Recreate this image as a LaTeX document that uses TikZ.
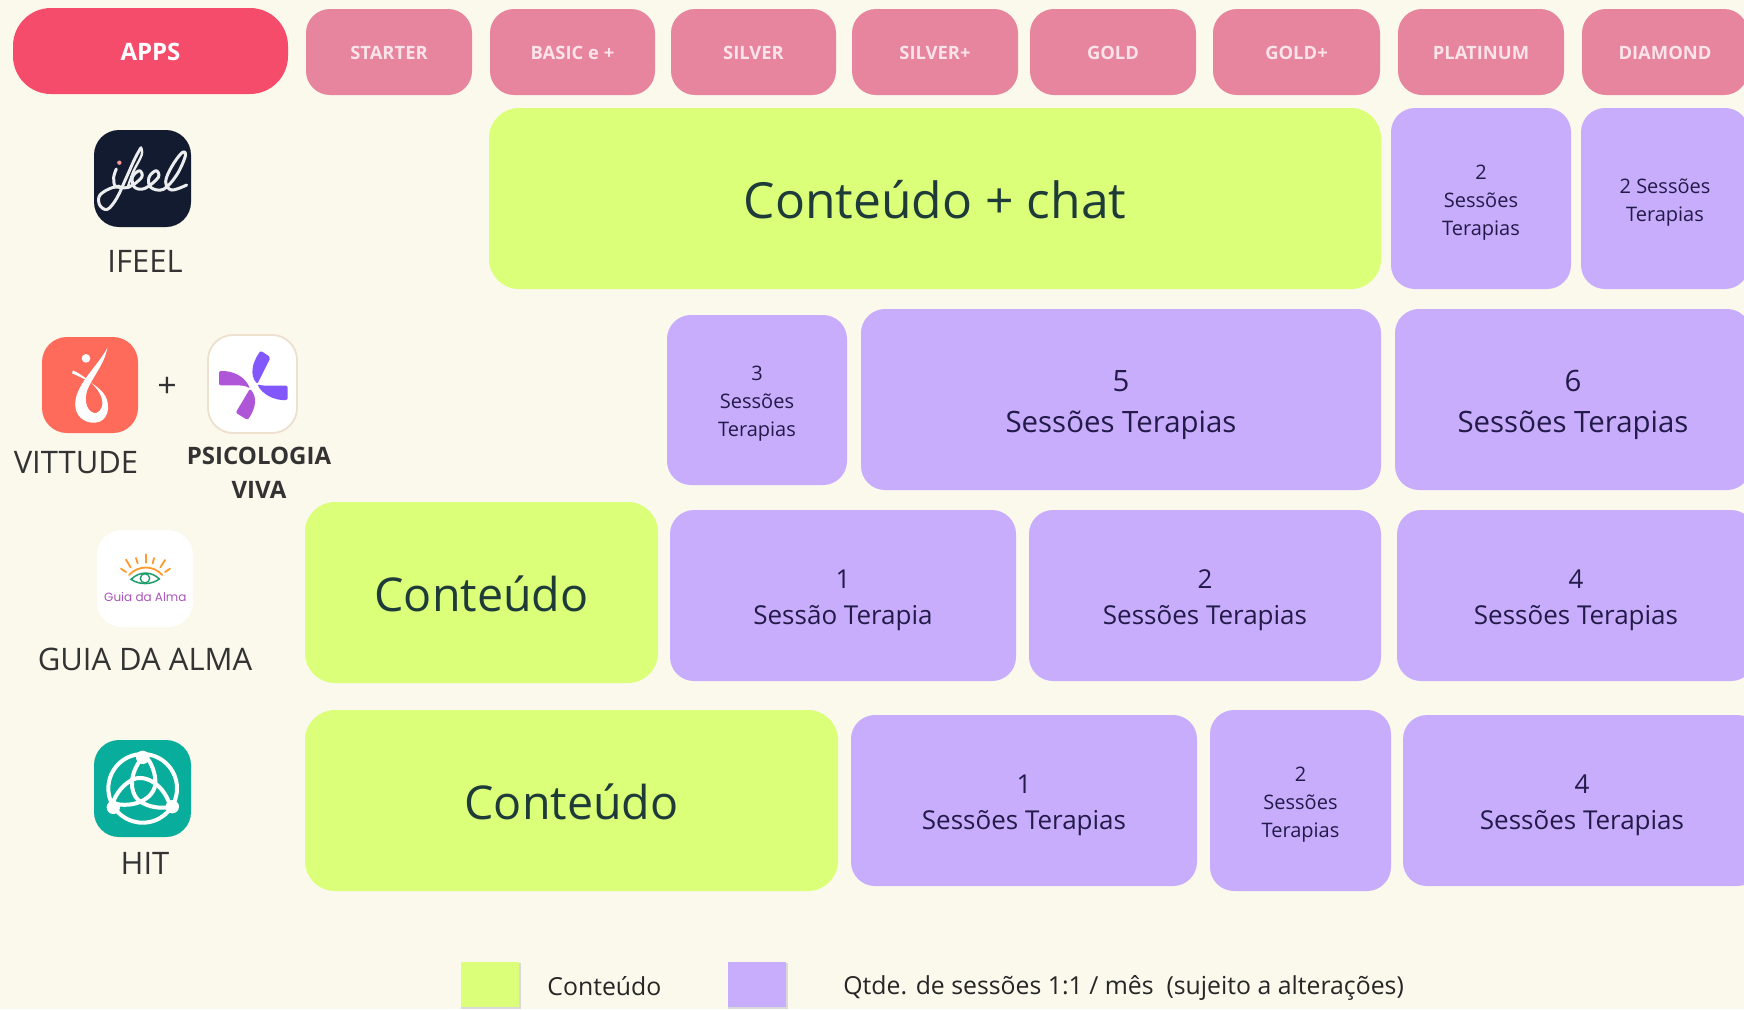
\documentclass[tikz,border=0pt]{standalone}
\usepackage{fontspec}
\setmainfont{Open Sans}
\newfontfamily\logofont{Poppins}
\definecolor{bgc}{HTML}{FBF9EC}
\definecolor{appsc}{HTML}{F64C6C}
\definecolor{tierc}{HTML}{E7849E}
\definecolor{tiertxt}{HTML}{FBE3EA}
\definecolor{greenc}{HTML}{DBFF78}
\definecolor{purplec}{HTML}{C7ADFB}
\definecolor{greentxt}{HTML}{1E3B3A}
\definecolor{purpletxt}{HTML}{231A4A}
\definecolor{labeltxt}{HTML}{333333}
\definecolor{ifeelc}{HTML}{131B30}
\definecolor{vitc}{HTML}{FF6B5A}
\definecolor{pvborder}{HTML}{EDE0CF}
\definecolor{pva}{HTML}{AF55D8}
\definecolor{pvb}{HTML}{8257FB}
\definecolor{hitc}{HTML}{09AD9B}
\definecolor{sunc}{HTML}{FF9A2E}
\definecolor{eyec}{HTML}{1F9E6B}
\definecolor{guiatxt}{HTML}{A855B8}
\definecolor{dotc}{HTML}{FF9A9A}
\newcommand\bx[7]{\pgfmathsetmacro\bw{(#5-#3)*.5}\pgfmathsetmacro\bh{(#6-#4)*.5}\node[#2,minimum width=\bw pt,minimum height=\bh pt] (#1) at ({(#3+#5)/2},{(#4+#6)/2}) {#7};}
\newcommand\stL{\rule{0pt}{16pt}}
\newcommand\stM{\rule{0pt}{14.3pt}}
\newcommand\stS{\rule{0pt}{11pt}}
\newcommand\stT{\rule{0pt}{7.6pt}}
\tikzset{
 x=.5pt,y=-.5pt,
 cell/.style={inner sep=0pt,align=center,rounded corners=12pt},
 apps/.style={cell,fill=appsc,text=white,rounded corners=19pt,font=\fontsize{12}{14}\selectfont\bfseries},
 tier/.style={cell,fill=tierc,text=tiertxt,font=\fontsize{9.2}{11}\selectfont\bfseries},
 bigg/.style={cell,fill=greenc,text=greentxt,rounded corners=15pt,font=\fontsize{24.9}{28}\selectfont},
 midg/.style={bigg,font=\fontsize{23.3}{28}\selectfont},
 large/.style={cell,fill=purplec,text=purpletxt,font=\fontsize{14.7}{20.5}\selectfont},
 med/.style={cell,fill=purplec,text=purpletxt,font=\fontsize{13}{18}\selectfont},
 small/.style={cell,fill=purplec,text=purpletxt,font=\fontsize{10}{14}\selectfont},
 lab/.style={inner sep=0pt,align=center,text=labeltxt,font=\fontsize{15.5}{17}\selectfont},
 labb/.style={lab,font=\fontsize{12}{17}\selectfont\bfseries},
 legtxt/.style={inner sep=0pt,anchor=west,text=black!85,font=\fontsize{12.4}{14}\selectfont},
 logobox/.style={inner sep=0pt,rounded corners=12.5pt},
 zoomone/.style={x=.16667pt,y=-.16667pt,shift={(0pt,-50pt)}},
 zoomtwo/.style={x=.16667pt,y=-.16667pt,shift={(0pt,-255pt)}},
}
\begin{document}
\begin{tikzpicture}
\fill[bgc] (0,0) rectangle (1744,1009);
\useasboundingbox (0,0) rectangle (1744,1009);
% header
\bx{apps}{apps}{13}{8}{288}{94}{\rule{0pt}{9.6pt}APPS}
\bx{t1}{tier}{306}{9}{472}{95}{\stT STARTER}
\bx{t2}{tier}{490}{9}{655}{95}{\stT BASIC e +}
\bx{t3}{tier}{671}{9}{836}{95}{\stT SILVER}
\bx{t4}{tier}{852}{9}{1018}{95}{\stT SILVER+}
\bx{t5}{tier}{1030}{9}{1196}{95}{\stT GOLD}
\bx{t6}{tier}{1213}{9}{1380}{95}{\stT GOLD+}
\bx{t7}{tier}{1398}{9}{1564}{95}{\stT PLATINUM}
\bx{t8}{tier}{1582}{9}{1748}{95}{\stT DIAMOND}
% row 1
\bx{r1a}{bigg}{489}{108}{1381}{289}{\rule{0pt}{20.5pt}Conteúdo + chat}
\bx{r1b}{small}{1391}{108}{1571}{289}{\stS 2\\Sessões\\Terapias}
\bx{r1c}{small}{1581}{108}{1749}{289}{\stS 2 Sessões\\Terapias}
% row 2
\bx{r2a}{small}{667}{315}{847}{485}{\stS 3\\Sessões\\Terapias}
\bx{r2b}{large}{861}{309}{1381}{490}{\stL 5\\Sessões Terapias}
\bx{r2c}{large}{1395}{309}{1751}{490}{\stL 6\\Sessões Terapias}
% row 3
\bx{r3a}{midg}{305}{502}{658}{683}{\rule{0pt}{19.5pt}Conteúdo}
\bx{r3b}{med}{670}{510}{1016}{681}{\stM 1\\Sessão Terapia}
\bx{r3c}{med}{1029}{510}{1381}{681}{\stM 2\\Sessões Terapias}
\bx{r3d}{med}{1397}{510}{1755}{681}{\stM 4\\Sessões Terapias}
% row 4
\bx{r4a}{midg}{305}{710}{838}{891}{\rule{0pt}{19.5pt}Conteúdo}
\bx{r4b}{med}{851}{715}{1197}{886}{\stM 1\\Sessões Terapias}
\bx{r4c}{small}{1210}{710}{1391}{891}{\stS 2\\Sessões\\Terapias}
\bx{r4d}{med}{1403}{715}{1761}{886}{\stM 4\\Sessões Terapias}
% app labels
\node[lab] (lifeel) at (145,261) {IFEEL};
\node[lab] (lvit) at (76,463) {VITTUDE};
\node[lab,font=\fontsize{17}{18}\selectfont] (lplus) at (167,387.5) {+};
\node[labb] (lpv) at (259,473) {PSICOLOGIA\\VIVA};
\node[lab] (lguia) at (145,659) {GUIA DA ALMA};
\node[lab] (lhit) at (145,863) {HIT};
% legend
\fill[black!15] (461,963) rectangle (520.5,1008.5);
\fill[black!15] (728,963) rectangle (787.5,1008.5);
\bx{leggreen}{fill=greenc,inner sep=0pt}{461}{962}{519}{1007}{}
\bx{legpurple}{fill=purplec,inner sep=0pt}{728}{962}{786}{1007}{}
\node[legtxt] (legA) at (547,986) {Conteúdo};
\node[legtxt] (legB) at (843,988) {Qtde. de sessões 1:1 / mês\ \ (sujeito a alterações)};
% --- logo tiles
\bx{logoifeel}{logobox,fill=ifeelc}{94}{130}{191}{227}{}
\bx{logovit}{logobox,fill=vitc}{42}{337}{138}{433}{}
\bx{logopv}{logobox,fill=white,draw=pvborder,line width=.9pt}{208}{335}{297}{433}{}
\bx{logoguia}{logobox,fill=white}{97}{530}{193}{627}{}
\bx{logohit}{logobox,fill=hitc}{94}{740}{191}{837}{}
% ifeel script
\begin{scope}[zoomone]
\fill[dotc] (358,188) circle (6.5);
\draw[white!92!ifeelc,line width=1.5pt,line cap=round,line join=round] plot[smooth,tension=.65] coordinates {(349,207) (341,232) (345,258) (358,258)};
\draw[white!92!ifeelc,line width=1.5pt,line cap=round,line join=round] plot[smooth,tension=.6] coordinates {(423,143) (405,175) (378,235) (350,295) (322,328) (299,315) (300,285) (340,262) (385,262) (425,232) (418,212) (397,232) (404,262) (435,265) (475,232) (468,212) (447,232) (452,262) (490,268) (530,225) (556,168) (546,158) (515,200) (497,245) (515,270) (560,255)};
\draw[white!92!ifeelc,line width=1.2pt,line cap=round] plot[smooth,tension=.6] coordinates {(423,143) (425,165) (400,215) (383,262)};
\end{scope}
% vittude figure
\begin{scope}[zoomone]
\fill[white] (258,775) circle (13);
\fill[white] (322,743) .. controls (300,790) and (230,850) .. (226,905) .. controls (222,950) and (255,970) .. (285,968) -- (290,940) .. controls (262,940) and (250,905) .. (262,870) .. controls (275,835) and (315,790) .. (322,743) -- cycle;
\fill[white] (285,968) .. controls (325,965) and (332,920) .. (317,890) .. controls (300,857) and (250,835) .. (216,820) -- (219,811) .. controls (255,828) and (305,868) .. (307,905) .. controls (308,930) and (295,940) .. (280,940) -- cycle;
\end{scope}
% psicologia viva pinwheel
\begin{scope}[zoomone]
\fill[pva,rounded corners=1pt] (657,813) .. controls (700,812) and (735,830) .. (750,866) .. controls (735,856) and (720,856) .. (700,856) -- (657,856) -- cycle;
\fill[pva,rounded corners=1pt] (743,960) .. controls (770,920) and (770,890) .. (750,866) -- (707,938) -- cycle;
\fill[pvb,rounded corners=1pt] (782,752) .. controls (755,790) and (750,825) .. (772,852) -- (812,772) -- cycle;
\fill[pvb,rounded corners=1pt] (863,900) .. controls (820,902) and (785,880) .. (772,852) .. controls (785,857) and (800,857) .. (820,857) -- (863,857) -- cycle;
\end{scope}
% guia da alma
\begin{scope}[zoomtwo]
\begin{scope}[sunc,line width=.9pt,line cap=round]
\draw (437,133) -- (437,158);
\draw (408,144) -- (413,160);
\draw (378,149) -- (392,172);
\draw (363,176) -- (378,186);
\draw (462,144) -- (458,160);
\draw (495,150) -- (481,172);
\draw (510,176) -- (495,186);
\draw (387,195) .. controls (415,165) and (460,165) .. (487,195);
\end{scope}
\draw[eyec,line width=.75pt] (393,208) .. controls (420,182) and (455,184) .. (478,207) .. controls (455,224) and (420,226) .. (393,208) -- cycle;
\draw[eyec,line width=.7pt] (435,205) circle (14);
\node[inner sep=0pt,text=guiatxt,font=\logofont\fontsize{6}{9}\selectfont] (guiatext) at (436,262) {Guia da Alma};
\end{scope}
% hit triquetra
\begin{scope}[zoomtwo]
\draw[white,line width=2pt] (428,835) circle (103);
\foreach \a in {0,120,240}{
  \draw[white,line width=2pt,rotate around={\a:(428,835)}] (428,742) .. controls (385,790) and (385,860) .. (430,880) .. controls (460,895) and (490,895) .. (517,890);
}
\fill[white] (428,742) circle (20);
\fill[white] (340,892) circle (20);
\fill[white] (517,890) circle (20);
\end{scope}
\end{tikzpicture}
\end{document}
